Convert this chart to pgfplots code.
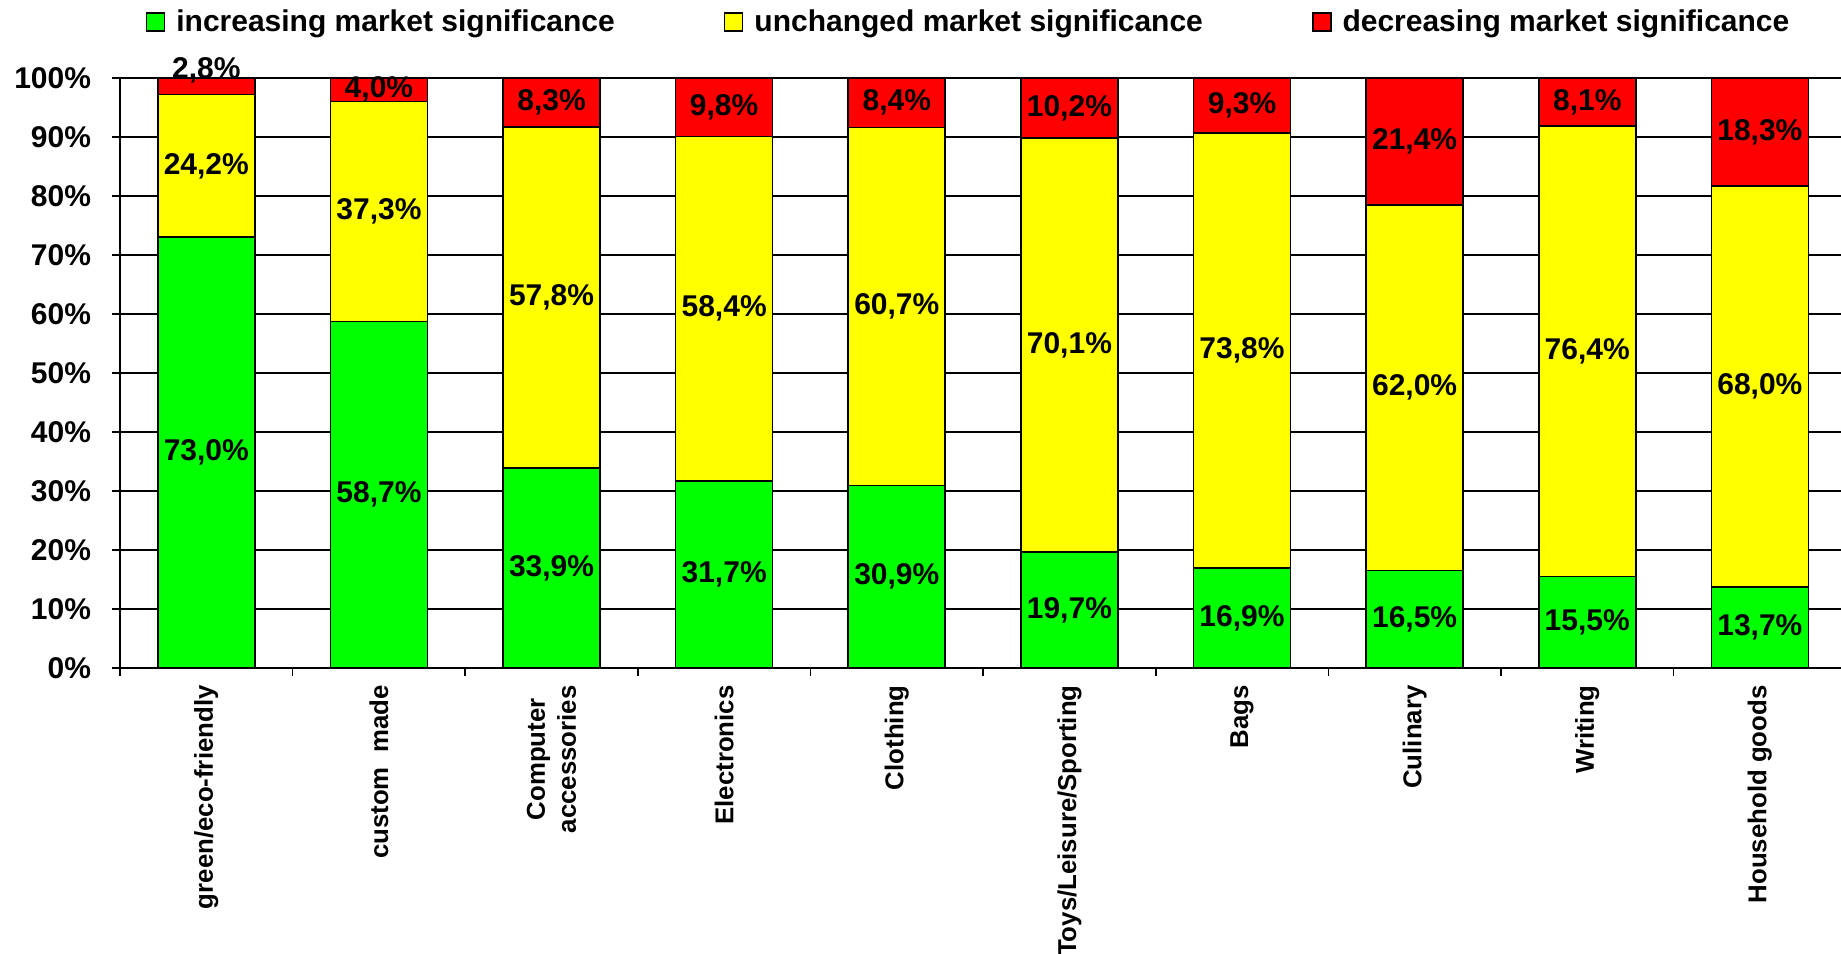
\documentclass[border=0pt]{standalone}
\usepackage{pgfplots}
\pgfplotsset{compat=1.18}
\usepackage{pgfplotstable}
\usepackage{fontspec}
\setmainfont{Liberation Sans}
\definecolor{cgreen}{HTML}{00FF00}
\definecolor{cyellow}{HTML}{FFFF00}
\definecolor{cred}{HTML}{FF0000}

\pgfplotstableread{
x g y r
0 73.0 24.2 2.8
1 58.7 37.3 4.0
2 33.9 57.8 8.3
3 31.7 58.4 9.8
4 30.9 60.7 8.4
5 19.7 70.1 10.2
6 16.9 73.8 9.3
7 16.5 62.0 21.4
8 15.5 76.4 8.1
9 13.7 68.0 18.3
}\datatable

\pgfplotstableread{
x pos lab
0 36.5 73,0
1 29.35 58,7
2 16.95 33,9
3 15.85 31,7
4 15.45 30,9
5 9.85 19,7
6 8.45 16,9
7 8.25 16,5
8 7.75 15,5
9 6.85 13,7
0 85.1 24,2
1 77.35 37,3
2 62.8 57,8
3 60.9 58,4
4 61.25 60,7
5 54.75 70,1
6 53.8 73,8
7 47.5 62,0
8 53.7 76,4
9 47.7 68,0
0 101.3 2,8
1 98.0 4,0
2 95.85 8,3
3 95.0 9,8
4 95.8 8,4
5 94.9 10,2
6 95.35 9,3
7 89.2 21,4
8 95.95 8,1
9 90.85 18,3
}\labeltable

\pgfplotsset{
  sqlegend/.style={legend image code/.code={\draw[#1, draw=black, line width=0.8pt] (0pt,-4.5pt) rectangle (9pt,4.5pt);}},
  common/.style={
    scale only axis, width=860.5pt, height=295pt,
    xmin=-0.5, xmax=9.47, ymin=0, ymax=100,
    at={(0,0)}, anchor=south west,
  }
}

\begin{document}
\begin{tikzpicture}
\useasboundingbox (-60pt,-142.5pt) rectangle (860.5pt,334pt);
\begin{axis}[common,
  ybar stacked, bar width=48.5pt,
  axis x line*=bottom, axis y line*=left,
  axis line style={-, line width=1pt},
  tick align=outside,
  major tick length=4pt,
  ytick={0,10,...,100},
  yticklabels={0\%,10\%,20\%,30\%,40\%,50\%,60\%,70\%,80\%,90\%,100\%},
  yticklabel style={font=\bfseries\fontsize{15}{18}\selectfont, inner sep=0pt, xshift=-10.3pt},
  ymajorgrids, major grid style={black, line width=0.8pt},
  ytick style={black, line width=0.8pt},
  xtick={-0.5,0.5,...,8.5}, xticklabels={},
  xtick style={black, line width=0.8pt},
  extra x ticks={0,1,...,9},
  extra x tick labels={green/eco-friendly, custom\ \ made, Computer\\accessories, Electronics, Clothing, Toys/Leisure/Sporting, Bags, Culinary, Writing, Household goods},
  extra x tick style={grid=none, major tick length=0pt,
     tick label style={rotate=90, anchor=east, align=center, inner sep=0pt, xshift=-8.5pt,
       font=\bfseries\fontsize{12.9}{15.5}\selectfont}},
  legend columns=3,
  legend style={at={(0.4925,1.095)}, anchor=center, draw=none, fill=none,
    font=\bfseries\fontsize{15}{18}\selectfont,
    nodes={inner sep=0pt},
    /tikz/every odd column/.append style={column sep=5.5pt},
    /tikz/every even column/.append style={column sep=54.5pt}},
]
\addplot[fill=cgreen, draw=black, line width=0.8pt, sqlegend] table[x=x, y=g] {\datatable};
\addplot[fill=cyellow, draw=black, line width=0.8pt, sqlegend] table[x=x, y=y] {\datatable};
\addplot[fill=cred, draw=black, line width=0.8pt, sqlegend] table[x=x, y=r] {\datatable};
\legend{increasing market significance, unchanged market significance, decreasing market significance}
\end{axis}
\begin{axis}[common, hide axis, clip=false]
\addplot[draw=none, mark=none, nodes near coords={\pgfplotspointmeta\%},
  point meta=explicit symbolic,
  every node near coord/.append style={anchor=center, inner sep=0pt, font=\bfseries\fontsize{15}{18}\selectfont}]
  table[x=x, y=pos, meta=lab] {\labeltable};
\end{axis}
\end{tikzpicture}
\end{document}
